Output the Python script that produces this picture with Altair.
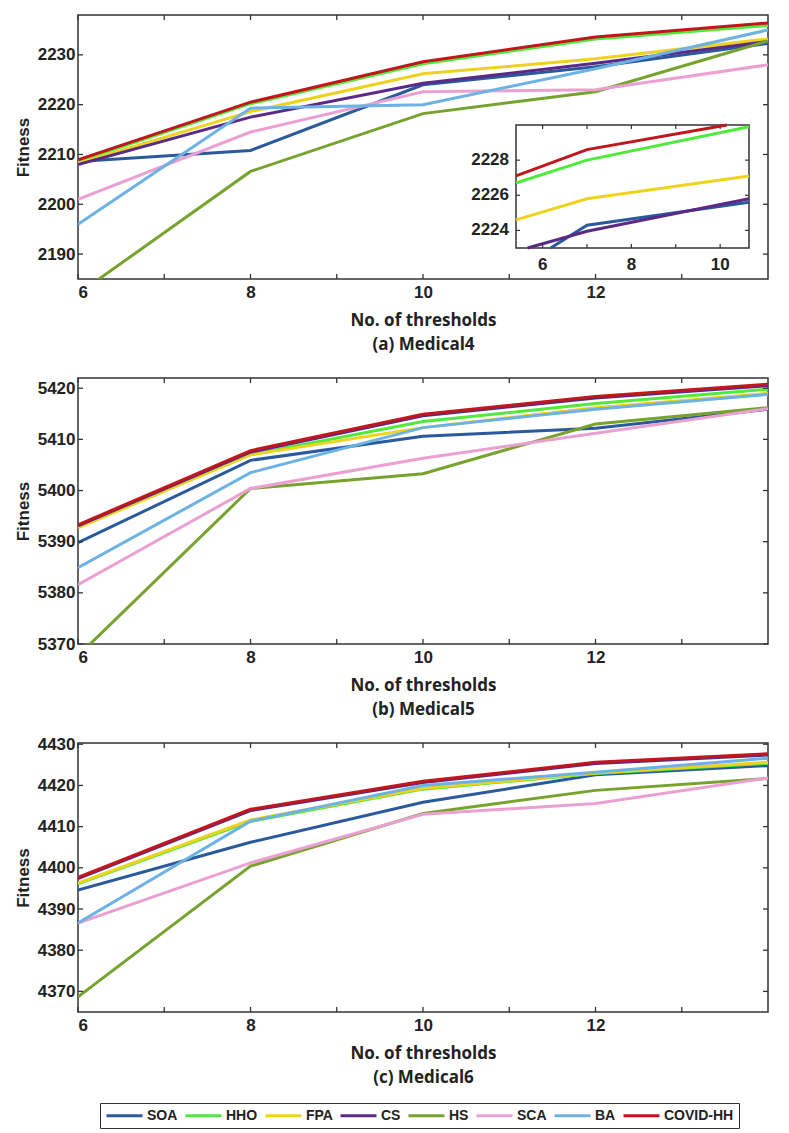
import altair as alt
import pandas as pd

# ---------------- data ----------------
thresholds = [6, 8, 10, 12, 14]
algorithms = ["SOA", "HHO", "FPA", "CS", "HS", "SCA", "BA", "COVID-HH"]
colors = ["#2b5a9c", "#4fea3a", "#eed21e", "#5a2a86", "#77a22e", "#eba0d2", "#6cb2e2", "#c0161c"]

medical4_SOA = [2208.6, 2210.8, 2224.0, 2227.6, 2232.3]
medical4_HHO = [2208.6, 2220.2, 2228.2, 2233.2, 2235.9]
medical4_FPA = [2208.2, 2218.6, 2226.2, 2229.2, 2233.2]
medical4_CS = [2208.0, 2217.5, 2224.3, 2228.3, 2232.7]
medical4_HS = [2182.0, 2206.6, 2218.2, 2222.6, 2232.8]
medical4_SCA = [2201.0, 2214.5, 2222.6, 2223.0, 2228.0]
medical4_BA = [2196.0, 2219.3, 2220.0, 2227.2, 2235.0]
medical4_COVID = [2208.9, 2220.5, 2228.6, 2233.6, 2236.4]

medical5_SOA = [5389.8, 5405.9, 5410.6, 5412.2, 5415.9]
medical5_HHO = [5392.9, 5407.0, 5413.5, 5417.0, 5419.8]
medical5_FPA = [5392.7, 5407.0, 5412.3, 5416.2, 5419.0]
medical5_CS = [5393.1, 5407.5, 5414.6, 5418.1, 5420.5]
medical5_HS = [5367.7, 5400.4, 5403.3, 5413.0, 5416.2]
medical5_SCA = [5381.6, 5400.4, 5406.3, 5411.2, 5416.0]
medical5_BA = [5384.9, 5403.5, 5412.3, 5415.9, 5418.8]
medical5_COVID = [5393.3, 5407.8, 5414.9, 5418.4, 5420.8]

medical6_SOA = [4394.6, 4406.2, 4415.9, 4422.6, 4424.8]
medical6_HHO = [4396.1, 4411.3, 4419.1, 4422.9, 4425.4]
medical6_FPA = [4396.3, 4411.6, 4419.3, 4423.0, 4425.6]
medical6_CS = [4397.4, 4413.9, 4420.7, 4425.3, 4427.4]
medical6_HS = [4368.7, 4400.4, 4413.2, 4418.8, 4421.7]
medical6_SCA = [4386.6, 4401.2, 4413.0, 4415.6, 4421.8]
medical6_BA = [4386.6, 4411.3, 4420.0, 4423.2, 4426.6]
medical6_COVID = [4397.7, 4414.2, 4421.0, 4425.6, 4427.7]

# inset of panel (a)
inset_SOA_x = [6.18, 7.0, 10.65]
inset_SOA_y = [2223.0, 2224.3, 2225.6]
inset_HHO_x = [5.4, 7.0, 10.65]
inset_HHO_y = [2226.7, 2228.0, 2229.9]
inset_FPA_x = [5.4, 7.0, 10.65]
inset_FPA_y = [2224.6, 2225.8, 2227.1]
inset_CS_x = [5.66, 7.0, 10.65]
inset_CS_y = [2223.0, 2223.95, 2225.8]
inset_COVID_x = [5.4, 7.0, 10.15]
inset_COVID_y = [2227.1, 2228.6, 2230.0]

x_ticks_all = [6, 7, 8, 9, 10, 11, 12, 13]
x_tick_labels = [6, 8, 10, 12]
y_ticks_a = [2190, 2200, 2210, 2220, 2230]
y_ticks_b = [5370, 5380, 5390, 5400, 5410, 5420]
y_ticks_c = [4370, 4380, 4390, 4400, 4410, 4420, 4430]
inset_x_labels = [6, 8, 10]
inset_x_ticks = [6, 7, 8, 9, 10]
inset_y_labels = [2224, 2226, 2228]

W = 690
AX = "#333333"
TXT = "#222222"
TICK_FONT = "Liberation Sans"
TITLE_FONT = "Open Sans"

legend = alt.Legend(
    title=None, orient="none", legendX=22, legendY=1088, direction="horizontal",
    columns=8, symbolType="M-3,0H3", symbolStrokeWidth=3, symbolSize=144,
    symbolOffset=12,
    labelFont=TICK_FONT, labelFontWeight="bold", labelFontSize=14, labelColor=TXT,
    labelOffset=15, columnPadding=1, strokeColor=AX, fillColor="white", padding=5,
)
color = alt.Color("alg:N", scale=alt.Scale(domain=algorithms, range=colors), legend=legend)


def long_df(series):
    rows = []
    for alg, vals in zip(algorithms, series):
        for t, v in zip(thresholds, vals):
            rows.append({"x": t, "y": v, "alg": alg})
    return pd.DataFrame(rows)


def panel(series, ydom, yticks, height, caption):
    df = long_df(series)
    xs = alt.Scale(domain=[6, 14], nice=False, zero=False)
    ys = alt.Scale(domain=ydom, nice=False, zero=False)
    xax = alt.Axis(
        values=x_tick_labels, format="d", title=["No. of thresholds", caption], labelPadding=5,
        titlePadding=12, titleLineHeight=24, titleFont=TITLE_FONT, titleFontSize=17,
        titleFontWeight="bold")
    yax = alt.Axis(
        values=yticks, format="d", title="Fitness", labelPadding=3, titlePadding=5,
        titleFont=TICK_FONT, titleFontSize=17, titleFontWeight="bold")
    lines = alt.Chart(df).mark_line(strokeWidth=3, clip=True).encode(
        x=alt.X("x:Q", scale=xs, axis=xax),
        y=alt.Y("y:Q", scale=ys, axis=yax),
        color=color,
    )
    tdf = pd.DataFrame({"x": x_ticks_all})
    ydf = pd.DataFrame({"y": yticks})
    rule = dict(color=AX, strokeWidth=1.3)
    xt = alt.Chart(tdf).mark_rule(**rule).encode(
        x=alt.X("x:Q", scale=xs, axis=xax), y=alt.value(0), y2=alt.value(5))
    xb = alt.Chart(tdf).mark_rule(**rule).encode(
        x=alt.X("x:Q", scale=xs, axis=xax), y=alt.value(height), y2=alt.value(height - 5))
    yl = alt.Chart(ydf).mark_rule(**rule).encode(
        y=alt.Y("y:Q", scale=ys, axis=yax), x=alt.value(0), x2=alt.value(5))
    yr = alt.Chart(ydf).mark_rule(**rule).encode(
        y=alt.Y("y:Q", scale=ys, axis=yax), x=alt.value(W - 5), x2=alt.value(W))
    return alt.layer(lines, xt, xb, yl, yr)


# ---------- panel (a) with inset ----------
main_a = panel(
    [medical4_SOA, medical4_HHO, medical4_FPA, medical4_CS, medical4_HS, medical4_SCA,
     medical4_BA, medical4_COVID],
    [2185, 2238], y_ticks_a, 264, "(a) Medical4")

inset_rows = []
for alg, xs_, ys_ in [("SOA", inset_SOA_x, inset_SOA_y), ("HHO", inset_HHO_x, inset_HHO_y),
                      ("FPA", inset_FPA_x, inset_FPA_y), ("CS", inset_CS_x, inset_CS_y),
                      ("COVID-HH", inset_COVID_x, inset_COVID_y)]:
    for a, b in zip(xs_, ys_):
        inset_rows.append({"x": a, "y": b, "alg": alg})
inset_df = pd.DataFrame(inset_rows)

IL, IR, IT, IB = 438, 671, 110, 233
ixs = alt.Scale(domain=[5.4, 10.65], range=[IL, IR], nice=False, zero=False)
iys = alt.Scale(domain=[2223, 2230], range=[IB, IT], nice=False, zero=False)
box = alt.Chart(pd.DataFrame({"x": [5.4], "x1": [10.65], "y": [2223], "y1": [2230]})).mark_rect(
    fill="white", stroke=AX, strokeWidth=1.5).encode(
    x=alt.X("x:Q", scale=ixs, axis=None), x2="x1:Q",
    y=alt.Y("y:Q", scale=iys, axis=None), y2="y1:Q",
)
itdf = pd.DataFrame({"x": inset_x_ticks})
iydf = pd.DataFrame({"y": inset_y_labels})
irule = dict(color=AX, strokeWidth=1.2)
it_top = alt.Chart(itdf).mark_rule(**irule).encode(
    x=alt.X("x:Q", scale=ixs, axis=None), y=alt.value(IT), y2=alt.value(IT + 4))
it_bot = alt.Chart(itdf).mark_rule(**irule).encode(
    x=alt.X("x:Q", scale=ixs, axis=None), y=alt.value(IB), y2=alt.value(IB - 4))
it_left = alt.Chart(iydf).mark_rule(**irule).encode(
    y=alt.Y("y:Q", scale=iys, axis=None), x=alt.value(IL), x2=alt.value(IL + 4))
it_right = alt.Chart(iydf).mark_rule(**irule).encode(
    y=alt.Y("y:Q", scale=iys, axis=None), x=alt.value(IR), x2=alt.value(IR - 4))
ilines = alt.Chart(inset_df).mark_line(strokeWidth=3).encode(
    x=alt.X("x:Q", scale=ixs, axis=None), y=alt.Y("y:Q", scale=iys, axis=None), color=color)
txt = dict(font=TICK_FONT, fontWeight="bold", fontSize=17, color=TXT)
ixlab = alt.Chart(pd.DataFrame({"x": inset_x_labels})).mark_text(
    baseline="middle", align="center", **txt).encode(
    x=alt.X("x:Q", scale=ixs, axis=None), y=alt.value(IB + 17),
    text=alt.Text("x:Q", format="d"))
iylab = alt.Chart(iydf).mark_text(baseline="middle", align="right", **txt).encode(
    y=alt.Y("y:Q", scale=iys, axis=None), x=alt.value(IL - 7),
    text=alt.Text("y:Q", format="d"))
inset = alt.layer(box, it_top, it_bot, it_left, it_right, ilines, ixlab, iylab)

panel_a = alt.layer(main_a, inset).resolve_scale(x="independent", y="independent").properties(
    width=W, height=264)

panel_b = panel(
    [medical5_SOA, medical5_HHO, medical5_FPA, medical5_CS, medical5_HS, medical5_SCA,
     medical5_BA, medical5_COVID],
    [5370, 5422], y_ticks_b, 266, "(b) Medical5").properties(width=W, height=266)

panel_c = panel(
    [medical6_SOA, medical6_HHO, medical6_FPA, medical6_CS, medical6_HS, medical6_SCA,
     medical6_BA, medical6_COVID],
    [4365, 4430.3], y_ticks_c, 269, "(c) Medical6").properties(width=W, height=269)

chart = alt.vconcat(
    panel_a, panel_b, panel_c, spacing=99, bounds="flush"
).properties(
    padding={"left": 5, "top": 5, "right": 5, "bottom": 0}
).configure(
    background="white"
).configure_view(
    stroke=AX, strokeWidth=1.5
).configure_axis(
    grid=False, domain=False, ticks=False, tickSize=0,
    labelFont=TICK_FONT, labelFontWeight="bold", labelFontSize=17, labelColor=TXT,
    titleColor=TXT,
)

chart.save("out.html", embed_options={"renderer": "svg", "actions": False})
